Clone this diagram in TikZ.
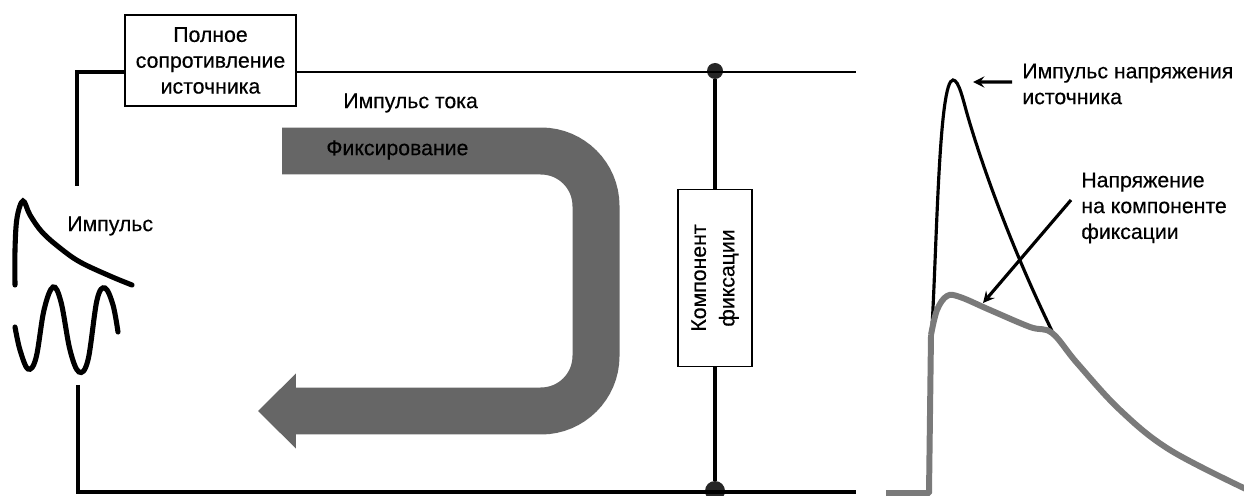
\documentclass[tikz,border=0pt]{standalone}
\usepackage{fontspec}
\setmainfont{Liberation Sans}
\usetikzlibrary{arrows.meta}
\definecolor{bandgray}{HTML}{666666}
\definecolor{tracegray}{HTML}{7A7A7A}
\tikzset{
	wire/.style={line width=1.8pt},
	box/.style={draw, line width=1.1pt, fill=white, align=center, inner sep=0pt},
	dot/.style={circle, fill=black!85, inner sep=0pt, minimum size=#1},
	note/.style={align=left, inner sep=.2cm},
	sketch/.style={line width=2.9pt, line cap=round, smooth, tension=.6},
	pointer/.style={->, line width=1.8pt},
}
\begin{document}
\begin{tikzpicture}[>=stealth, x=.02cm, y=-.02cm, font=\fontsize{12.1}{14.7}\selectfont\addfontfeatures{FakeBold=.35}]
	\clip (0,0) rectangle (1244,496);
	\draw[bandgray, line width=.94cm, rounded corners=1.1cm, -{Triangle[length=.76cm, width=1.46cm]}]
		(282,151) -- (596,151) -- (596,411) -- (258,411);
	\node[box, minimum width=3.42cm, minimum height=1.82cm] (srcbox) at (210.5,60.5) {Полное\\сопротивление\\источника};
	\node[box, rotate=90, minimum width=3.54cm, minimum height=1.48cm] (clampbox) at (715,278) {Компонент\\[1.5pt]фиксации};
	\node[dot=.32cm] (topdot) at (715,71) {};
	\node[dot=.4cm] (botdot) at (715,491) {};
	\coordinate (topgap) at (77,186);
	\coordinate (botgap) at (78,385);
	\coordinate (topend) at (856,72);
	\coordinate (botend) at (856,492);
	\draw[wire, line width=1.4pt] (srcbox.east |- topend) -- (topend);
	\draw[wire] (srcbox.west |- topend) -| (topgap);
	\draw[wire] (botgap) |- (botend);
	\draw[wire] (topdot) -- (clampbox) -- (botdot);
	\node[anchor=west, inner sep=0pt] (currentlab) at (343,103) {Импульс тока};
	\node[anchor=west, inner sep=0pt] (flowlab) at (326,150) {Фиксирование};
	\node[anchor=west, inner sep=0pt] (pulselab) at (67,226) {Импульс};
	\draw[sketch] plot coordinates {(15,285) (15,250) (17,218) (23,201) (30,215) (42,232) (60,248) (80,262) (110,276) (132,285)};
	\draw[sketch] plot coordinates {(15,327) (20,350) (28,369) (36,358) (44,310) (53,287) (61,302) (70,350) (79,372) (88,360) (97,300) (105,288) (113,305) (118,332)};
	\draw[line width=1.8pt] (932,327) .. controls (937,240) and (939,80) .. (953,80)
		.. controls (959,80) and (963,100) .. (968,117) .. controls (985,175) and (1015,255) .. (1052,331);
	\draw[tracegray, line width=3.4pt, rounded corners=.5pt] (886,493) -- (929,493) -- (931,335);
	\draw[tracegray, line width=3.4pt, smooth, tension=.6] plot coordinates {(931,335) (937,310) (947,296) (960,297) (990,310) (1030,327) (1052,333) (1077,363) (1120,410) (1170,450) (1250,491)};
	\node[note, anchor=west] (srcnote) at (1012,84) {Импульс напряжения\\источника};
	\node[note, anchor=west] (clampnote) at (1071,208) {Напряжение\\на компоненте\\фиксации};
	\coordinate (srctip) at (973,82);
	\coordinate (clamptip) at (983,303);
	\draw[pointer] ([yshift=.04cm]srcnote.west) -- (srctip);
	\draw[pointer] ([yshift=.16cm]clampnote.west) -- (clamptip);
\end{tikzpicture}
\end{document}
